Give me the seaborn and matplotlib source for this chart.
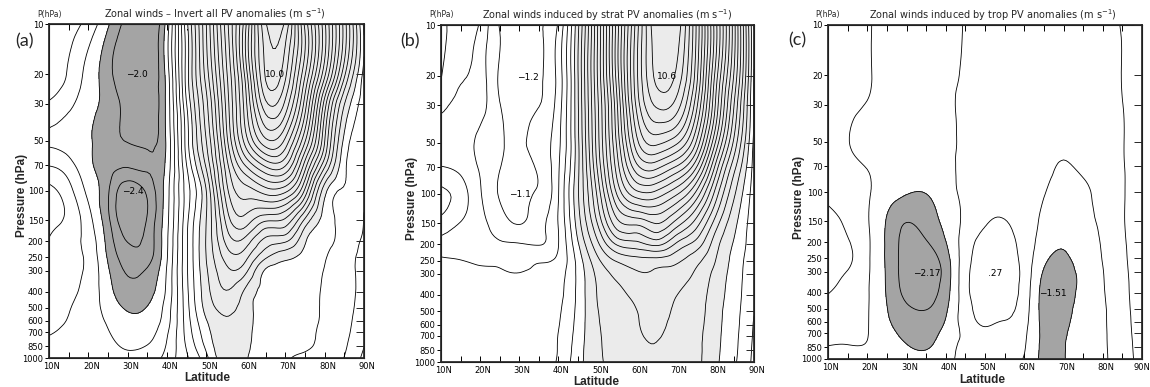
import numpy as np
import matplotlib
matplotlib.use("Agg")
import matplotlib.pyplot as plt
from matplotlib.transforms import ScaledTranslation
from matplotlib.tri import Triangulation, UniformTriRefiner, CubicTriInterpolator
import seaborn as sns

sns.set_theme(style="ticks")
plt.rcParams["font.family"] = ["DejaVu Sans"]
plt.rcParams["contour.negative_linestyle"] = "solid"

# ---------------- data ----------------
lats = [10, 15, 20, 25, 30, 35, 40, 45, 50, 55, 60, 65, 70, 75, 80, 85, 90]
levs = [10, 20, 30, 50, 70, 100, 150, 200, 250, 300, 400, 500, 600, 700, 850, 1000]

# columns (one list per latitude, values from 10 hPa down to 1000 hPa)
ua_cols = [
    [0.0, -0.15, -0.45, -0.85, -0.42, 0.1, 0.15, -0.02, -0.08, -0.12, -0.18, -0.25, -0.32, -0.38, -0.47, -0.55],
    [-0.2, -0.45, -0.7, -0.95, -0.65, -0.25, -0.1, -0.27, -0.27, -0.28, -0.32, -0.38, -0.42, -0.47, -0.52, -0.56],
    [-0.55, -0.95, -1.05, -1.15, -1.1, -0.9, -0.65, -0.55, -0.5, -0.5, -0.55, -0.6, -0.62, -0.62, -0.62, -0.62],
    [-1.15, -1.45, -1.35, -1.45, -1.45, -1.55, -1.5, -1.35, -1.25, -1.15, -1.05, -0.95, -0.85, -0.78, -0.7, -0.65],
    [-1.75, -1.95, -1.75, -1.62, -1.55, -2.3, -2.35, -2.02, -1.8, -1.65, -1.45, -1.25, -1.1, -1.0, -0.85, -0.7],
    [-1.95, -1.9, -1.85, -1.7, -1.55, -1.9, -1.95, -1.85, -1.75, -1.55, -1.35, -1.18, -1.05, -0.95, -0.78, -0.6],
    [-1.0, -1.0, -1.05, -1.1, -1.05, -0.95, -0.9, -0.85, -0.82, -0.75, -0.7, -0.6, -0.55, -0.45, -0.35, -0.25],
    [1.5, 1.41, 1.22, 1.02, 0.82, 0.6, 0.7, 0.75, 0.75, 0.75, 0.7, 0.65, 0.6, 0.55, 0.45, 0.35],
    [3.62, 3.41, 3.1, 2.82, 2.5, 2.02, 2.02, 2.05, 2.02, 1.95, 1.85, 1.75, 1.58, 1.45, 1.3, 1.1],
    [5.8, 5.5, 5.3, 5.02, 4.6, 4.22, 3.7, 3.3, 2.95, 2.7, 2.38, 2.1, 1.98, 1.95, 1.9, 1.85],
    [7.95, 7.8, 7.5, 7.02, 6.05, 5.02, 4.22, 3.42, 2.9, 2.5, 1.9, 1.78, 1.75, 1.72, 1.68, 1.63],
    [10.35, 10.05, 9.5, 8.3, 6.9, 5.4, 3.65, 2.65, 2.05, 1.55, 1.5, 1.45, 1.45, 1.45, 1.45, 1.45],
    [10.3, 9.7, 9.1, 7.9, 6.85, 5.3, 3.5, 2.45, 1.7, 1.45, 1.48, 1.45, 1.42, 1.38, 1.32, 1.25],
    [7.9, 7.65, 7.02, 6.05, 5.02, 3.9, 2.3, 1.65, 1.45, 1.35, 1.34, 1.33, 1.32, 1.3, 1.25, 1.12],
    [5.7, 5.3, 4.22, 3.62, 2.9, 1.75, 1.45, 1.3, 1.22, 1.19, 1.17, 1.16, 1.15, 1.12, 1.1, 1.02],
    [3.42, 2.9, 2.02, 1.5, 1.3, 1.15, 1.05, 1.02, 0.95, 0.95, 0.98, 0.96, 0.93, 0.9, 0.85, 0.79],
    [1.1, 1.05, 1.02, 0.95, 0.9, 0.85, 0.79, 0.75, 0.72, 0.7, 0.65, 0.6, 0.55, 0.5, 0.41, 0.3],
]

ub_cols = [
    [0.3, 0.22, -0.12, -0.35, -0.18, 0.3, 0.05, -0.28, -0.15, 0.0, 0.05, 0.05, 0.05, 0.05, 0.05, 0.05],
    [0.05, -0.15, -0.3, -0.4, -0.3, 0.0, -0.22, -0.35, -0.19, -0.05, 0.0, 0.02, 0.04, 0.05, 0.05, 0.05],
    [-0.25, -0.4, -0.45, -0.7, -0.65, -0.56, -0.5, -0.4, -0.25, -0.12, -0.02, 0.02, 0.04, 0.05, 0.06, 0.06],
    [-1.02, -1.05, -0.98, -0.95, -0.99, -1.03, -0.8, -0.55, -0.3, -0.15, -0.03, 0.0, 0.02, 0.04, 0.05, 0.06],
    [-1.12, -1.15, -1.12, -1.06, -1.08, -1.1, -1.02, -0.58, -0.4, -0.18, -0.05, 0.0, 0.02, 0.04, 0.06, 0.07],
    [-1.03, -1.05, -1.01, -0.85, -0.95, -0.95, -0.75, -0.62, -0.25, -0.1, -0.02, 0.02, 0.04, 0.06, 0.08, 0.1],
    [-0.55, -0.45, -0.4, -0.3, -0.25, -0.22, -0.18, -0.21, -0.1, 0.02, 0.1, 0.15, 0.18, 0.21, 0.22, 0.25],
    [1.3, 1.38, 1.35, 1.3, 1.3, 1.35, 1.2, 0.95, 0.75, 0.7, 0.7, 0.72, 0.75, 0.78, 0.82, 0.85],
    [3.78, 3.82, 3.7, 3.62, 3.45, 3.1, 2.62, 2.1, 1.7, 1.5, 1.42, 1.38, 1.35, 1.33, 1.32, 1.3],
    [6.4, 6.4, 6.15, 5.9, 5.6, 5.05, 4.05, 3.05, 2.25, 1.9, 1.7, 1.62, 1.6, 1.58, 1.56, 1.55],
    [8.8, 8.9, 8.7, 8.05, 7.25, 6.05, 4.3, 3.25, 2.45, 2.15, 1.92, 1.79, 1.76, 1.72, 1.68, 1.65],
    [10.5, 10.3, 9.85, 8.7, 7.5, 6.05, 4.62, 3.5, 2.45, 2.15, 2.05, 1.98, 1.92, 1.85, 1.75, 1.7],
    [10.5, 10.15, 9.65, 8.3, 6.95, 5.5, 4.05, 2.95, 2.3, 2.02, 1.82, 1.72, 1.66, 1.62, 1.58, 1.55],
    [8.7, 8.5, 8.05, 7.05, 5.9, 4.55, 3.25, 2.45, 1.95, 1.75, 1.6, 1.55, 1.52, 1.5, 1.5, 1.5],
    [6.05, 5.75, 5.45, 4.65, 3.75, 2.9, 2.05, 1.6, 1.42, 1.3, 1.22, 1.18, 1.16, 1.14, 1.12, 1.1],
    [3.5, 3.3, 2.95, 2.45, 1.9, 1.45, 1.1, 0.95, 0.86, 0.82, 0.78, 0.74, 0.72, 0.7, 0.68, 0.65],
    [0.58, 0.58, 0.55, 0.5, 0.45, 0.4, 0.35, 0.3, 0.27, 0.25, 0.22, 0.21, 0.17, 0.15, 0.12, 0.1],
]

uc_cols = [
    [-0.3, -0.3, -0.3, -0.3, -0.3, -0.15, 0.15, 0.25, 0.25, 0.2, 0.02, -0.2, -0.3, -0.4, -0.62, -0.75],
    [-0.4, -0.42, -0.5, -0.58, -0.5, -0.35, -0.1, 0.05, 0.12, -0.02, -0.2, -0.3, -0.38, -0.45, -0.64, -0.8],
    [-0.55, -0.55, -0.62, -0.75, -0.62, -0.55, -0.55, -0.5, -0.5, -0.52, -0.55, -0.56, -0.57, -0.58, -0.65, -0.8],
    [-0.75, -0.75, -0.78, -0.85, -0.8, -0.9, -1.25, -1.3, -1.3, -1.28, -1.25, -1.18, -1.1, -1.0, -0.9, -0.85],
    [-0.8, -0.8, -0.82, -0.85, -0.9, -1.15, -1.78, -2.0, -2.05, -2.05, -1.95, -1.7, -1.5, -1.35, -1.15, -0.95],
    [-0.78, -0.78, -0.8, -0.82, -0.88, -1.18, -1.5, -1.85, -2.1, -2.17, -2.05, -1.82, -1.6, -1.45, -1.25, -1.0],
    [-0.7, -0.7, -0.7, -0.72, -0.75, -0.85, -1.05, -1.22, -1.45, -1.55, -1.45, -1.3, -1.15, -1.0, -0.85, -0.75],
    [-0.58, -0.55, -0.5, -0.5, -0.45, -0.45, -0.45, -0.3, -0.25, -0.2, -0.2, -0.25, -0.3, -0.45, -0.45, -0.45],
    [-0.45, -0.42, -0.4, -0.35, -0.3, -0.2, -0.05, 0.15, 0.22, 0.25, 0.25, 0.15, 0.05, -0.1, -0.3, -0.4],
    [-0.42, -0.4, -0.38, -0.33, -0.28, -0.15, 0.02, 0.2, 0.26, 0.27, 0.22, 0.12, -0.02, -0.15, -0.32, -0.42],
    [-0.48, -0.46, -0.45, -0.42, -0.4, -0.35, -0.3, -0.25, -0.22, -0.2, -0.25, -0.32, -0.4, -0.48, -0.55, -0.65],
    [-0.5, -0.5, -0.5, -0.5, -0.52, -0.58, -0.7, -0.85, -1.05, -1.25, -1.45, -1.45, -1.4, -1.35, -1.35, -1.35],
    [-0.48, -0.48, -0.5, -0.55, -0.62, -0.7, -0.85, -1.1, -1.3, -1.42, -1.51, -1.45, -1.38, -1.3, -1.25, -1.25],
    [-0.45, -0.45, -0.47, -0.5, -0.55, -0.65, -0.72, -0.85, -0.95, -1.05, -1.05, -1.0, -0.95, -0.9, -0.88, -0.85],
    [-0.35, -0.35, -0.35, -0.38, -0.4, -0.45, -0.5, -0.55, -0.58, -0.62, -0.65, -0.68, -0.68, -0.68, -0.68, -0.68],
    [0.04, 0.02, -0.01, -0.03, -0.04, -0.05, -0.05, -0.08, -0.1, -0.12, -0.15, -0.18, -0.2, -0.22, -0.25, -0.28],
    [0.2, 0.2, 0.2, 0.2, 0.2, 0.2, 0.2, 0.2, 0.2, 0.2, 0.2, 0.2, 0.2, 0.2, 0.2, 0.2],
]

levels_a = [round(-2.0 + 0.4 * k, 2) for k in range(32)]
levels_b = [round(-1.0 + 0.4 * k, 2) for k in range(29)]
levels_c = [-1.8, -1.2, -0.6, 0.0]

titles = ["Zonal winds \u2013 Invert all PV anomalies (m s$^{-1}$)",
          "Zonal winds induced by strat PV anomalies (m s$^{-1}$)",
          "Zonal winds induced by trop PV anomalies (m s$^{-1}$)"]
panel_tags = ["(a)", "(b)", "(c)"]

ext_labels = [
    [("\u22122.0", 32.3, 20), ("\u22122.4", 31.3, 101), ("10.0", 67.4, 20)],
    [("\u22121.2", 32.2, 20.6), ("\u22121.1", 30.2, 101), ("10.6", 67.7, 20.3)],
    [("\u22122.17", 35.1, 307), (".27", 52.5, 307), ("\u22121.51", 67.4, 408)],
]

ytick_vals = levs
ytick_labels = [str(v) for v in levs]
xtick_vals = [10, 20, 30, 40, 50, 60, 70, 80, 90]
xtick_labels = ["10N", "20N", "30N", "40N", "50N", "60N", "70N", "80N", "90N"]


def smooth_field(field):
    """Let matplotlib.tri refine the grid with its cubic interpolator."""
    LA, PP = np.meshgrid(np.asarray(lats, float), np.asarray(levs, float))
    xs = LA.ravel() / 50.0
    ys = np.log10(PP.ravel())
    nx, ny = len(lats), len(levs)
    triangles = []
    for j in range(ny - 1):
        for i in range(nx - 1):
            a = j * nx + i
            b = a + 1
            c = a + nx
            d = c + 1
            triangles.append([a, b, d])
            triangles.append([a, d, c])
    tri = Triangulation(xs, ys, triangles)
    z = field.ravel()
    interp = CubicTriInterpolator(tri, z, kind="min_E")
    tri_f, z_f = UniformTriRefiner(tri).refine_field(z, triinterpolator=interp, subdiv=3)
    tri_plot = Triangulation(tri_f.x * 50.0, 10 ** tri_f.y, tri_f.triangles)
    return tri_plot, z_f


# ---------------- layout ----------------
W, H = 1150, 387
fig = plt.figure(figsize=(W / 100, H / 100), dpi=100)

boxes = [(49, 24, 364, 358), (441, 25, 754, 362), (828, 25, 1142, 359)]
pl_pos = [(49, 14), (441, 15), (828, 15)]
title_pos = [(215, 14), (607, 15), (993, 15)]
tag_pos = [(25, 41), (410, 41), (797, 40)]
ylab_pos = [(22, 195), (412, 198), (799, 197)]
xlab_pos = [(207, 378), (596, 382), (982, 380)]

fields = [np.array(ua_cols).T, np.array(ub_cols).T, np.array(uc_cols).T]
level_sets = [levels_a, levels_b, levels_c]
dark_thr = [-1.2, -1.6, -1.2]
light_thr = [1.6, 1.0, 5.0]

DARK = "#a4a4a4"
LIGHT = "#ebebeb"

for i in range(3):
    x0, y0, x1, y1 = boxes[i]
    ax = fig.add_axes([x0 / W, 1 - y1 / H, (x1 - x0) / W, (y1 - y0) / H])
    ax.set_yscale("log")
    tri_plot, zf = smooth_field(fields[i])
    if zf.min() < dark_thr[i]:
        ax.tricontourf(tri_plot, zf, levels=[-99, dark_thr[i]], colors=[DARK])
    if zf.max() > light_thr[i]:
        ax.tricontourf(tri_plot, zf, levels=[light_thr[i], 99], colors=[LIGHT])
    ax.tricontour(tri_plot, zf, levels=level_sets[i], colors="black",
                  linewidths=0.6, linestyles="solid")
    ax.set_xlim(10, 90)
    ax.set_ylim(1000, 10)
    ax.set_xticks(xtick_vals)
    ax.set_xticklabels(xtick_labels, fontsize=6)
    ax.set_xticks([15, 25, 35, 45, 55, 65, 75, 85], minor=True)
    ax.set_yticks(ytick_vals)
    ax.set_yticklabels(ytick_labels, fontsize=6)
    ax.yaxis.set_minor_locator(matplotlib.ticker.NullLocator())
    ax.tick_params(axis="x", which="both", direction="in", top=True, bottom=True,
                   length=4, width=0.7, pad=3, colors="black")
    ax.tick_params(axis="y", which="both", direction="out", left=True, right=False,
                   length=3, width=0.7, pad=1, colors="black")
    xlabs = ax.get_xticklabels()
    for k, lab in enumerate(xlabs):
        shift = 0 if (i == 2 and k == len(xlabs) - 1) else 3
        lab.set_transform(lab.get_transform() + ScaledTranslation(shift / 100, 0, fig.dpi_scale_trans))
    for sp in ax.spines.values():
        sp.set_linewidth(0.8)
        sp.set_color("black")
    axr = ax.twinx()
    axr.set_yscale("log")
    axr.set_ylim(1000, 10)
    axr.set_yticks(ytick_vals)
    axr.yaxis.set_minor_locator(matplotlib.ticker.NullLocator())
    axr.tick_params(axis="y", which="both", direction="in", right=True, length=6,
                    width=0.7, labelright=False)
    axr.grid(False)

    for txt, la, pv in ext_labels[i]:
        ax.text(la, pv, txt, fontsize=6.5, ha="center", va="center", color="black")

    fig.text(pl_pos[i][0] / W, 1 - pl_pos[i][1] / H, "P(hPa)", fontsize=5.5,
             ha="center", va="center")
    fig.text(title_pos[i][0] / W, 1 - title_pos[i][1] / H, titles[i], fontsize=7,
             ha="center", va="center")
    fig.text(tag_pos[i][0] / W, 1 - tag_pos[i][1] / H, panel_tags[i], fontsize=13,
             ha="center", va="center", family=["Lato", "DejaVu Sans"])
    fig.text(ylab_pos[i][0] / W, 1 - ylab_pos[i][1] / H, "Pressure (hPa)", fontsize=8.5,
             fontweight="bold", rotation=90, ha="center", va="center",
             family=["Liberation Sans", "DejaVu Sans"])
    fig.text(xlab_pos[i][0] / W, 1 - xlab_pos[i][1] / H, "Latitude", fontsize=8.5,
             fontweight="bold", ha="center", va="center",
             family=["Liberation Sans", "DejaVu Sans"])

fig.savefig("out.png", dpi=100)
